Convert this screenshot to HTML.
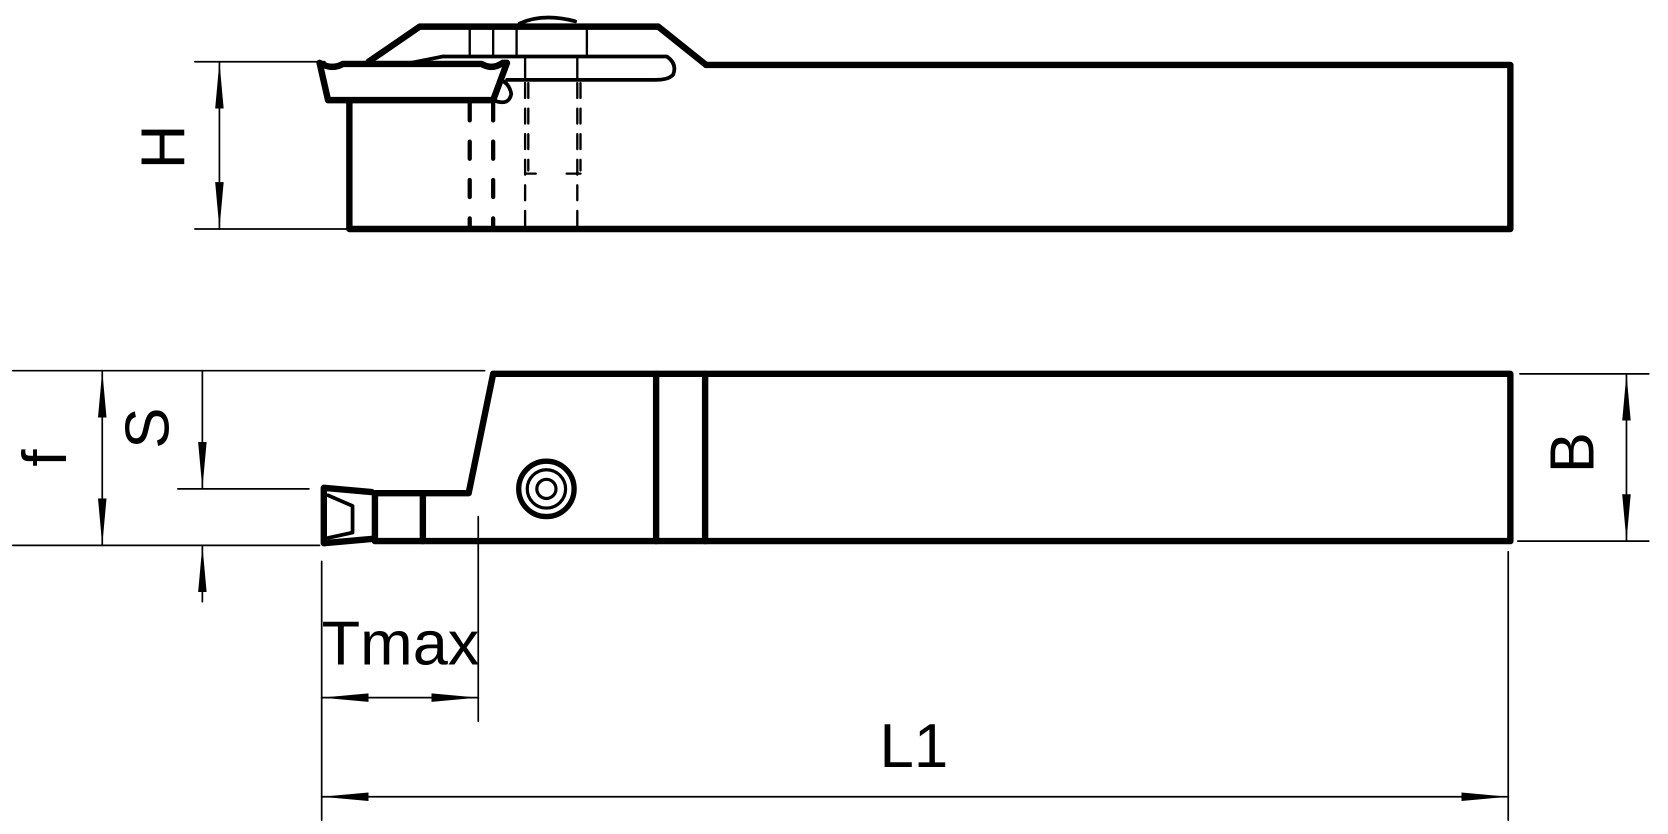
<!DOCTYPE html>
<html><head><style>html,body{margin:0;padding:0;background:#fff}svg{display:block}</style></head><body>
<svg width="1668" height="834" viewBox="0 0 1566 783" preserveAspectRatio="none" xmlns="http://www.w3.org/2000/svg">
<defs>
<marker id="a" viewBox="0 0 44 10" refX="44" refY="5" markerWidth="44" markerHeight="10" markerUnits="userSpaceOnUse" orient="auto-start-reverse"><path d="M0,1 L44,5 L0,9 Z" fill="#000"/></marker>
</defs>
<g fill="none" stroke="#000" stroke-linecap="round" stroke-linejoin="round">
<g stroke-width="6">
<path d="M663,61 L1418,61 L1418,215 L328,215 L328,97"/>
<path d="M346,58 L394,25 L618,25 L663,61"/>
<path d="M300,59 Q312,66 322,60 L452,60 Q462,66 472,59 L476,59 L463,94 L308,94 Z"/>
</g>
<g stroke-width="3.5">
<path d="M416,53 L626,53 Q636,60 632,70 Q628,75 615,75 L476,75"/>
<path d="M386,59 L416,53"/>
<path d="M463,94 Q478,100 480,88 Q478,78 470,75"/>
<path d="M488,22 Q510,12 540,20"/>
</g>
<g stroke-width="2.2">
<path d="M441,25V53 M463,25V53 M485,25V53 M551,25V53"/>
<path d="M493,53V75 M542,53V75"/>
<path d="M493,78V215 M496,78V160 M542,78V215 M545,78V160" stroke-dasharray="14,10"/>
<path d="M493,163H503 M532,163H545"/>
</g>
<g stroke-width="4">
<path d="M441,97V215 M463,97V215" stroke-dasharray="16,20"/>
</g>
<g stroke-width="6">
<path d="M463,351 L1418,351 L1418,508 L352,508 L352,463 L440,463 Z"/>
<path d="M616,351V508 M662,351V508 M397,463V508"/>
<path d="M349,462 L304,458 L304,510 L349,506"/>
</g>
<path d="M308,465 L331,475 L331,500 L308,505" stroke-width="3.5"/>
<circle cx="513" cy="459" r="26" stroke-width="5"/>
<circle cx="513" cy="459" r="18" stroke-width="3"/>
<circle cx="513" cy="459" r="9" stroke-width="3"/>
<g stroke-width="1.6">
<path d="M183,58H305 M183,215H328"/>
<path d="M206,58V215" marker-start="url(#a)" marker-end="url(#a)"/>
<path d="M12,348H455 M12,512H300 M167,459H290"/>
<path d="M96,348V512" marker-start="url(#a)" marker-end="url(#a)"/>
<path d="M190,348V459" marker-end="url(#a)"/>
<path d="M190,565V512" marker-end="url(#a)"/>
<path d="M1427,351H1548 M1425,508H1548"/>
<path d="M1527,351V508" marker-start="url(#a)" marker-end="url(#a)"/>
<path d="M302,527V770 M449,485V677 M1416,518V770"/>
<path d="M302,655H449" marker-start="url(#a)" marker-end="url(#a)"/>
<path d="M302,748H1416" marker-start="url(#a)" marker-end="url(#a)"/>
</g>
</g>
<g font-family="Liberation Sans, sans-serif" fill="#000">
<text x="302" y="624" font-size="58" textLength="148" lengthAdjust="spacingAndGlyphs">Tmax</text>
<text x="858" y="720" font-size="58" text-anchor="middle">L1</text>
<text transform="translate(173,138) rotate(-90)" font-size="58" text-anchor="middle">H</text>
<text transform="translate(158,402) rotate(-90)" font-size="58" text-anchor="middle">S</text>
<text transform="translate(62,430) rotate(-90)" font-size="58" text-anchor="middle">f</text>
<text transform="translate(1496,425) rotate(-90)" font-size="58" text-anchor="middle">B</text>
</g>
</svg>
</body></html>
